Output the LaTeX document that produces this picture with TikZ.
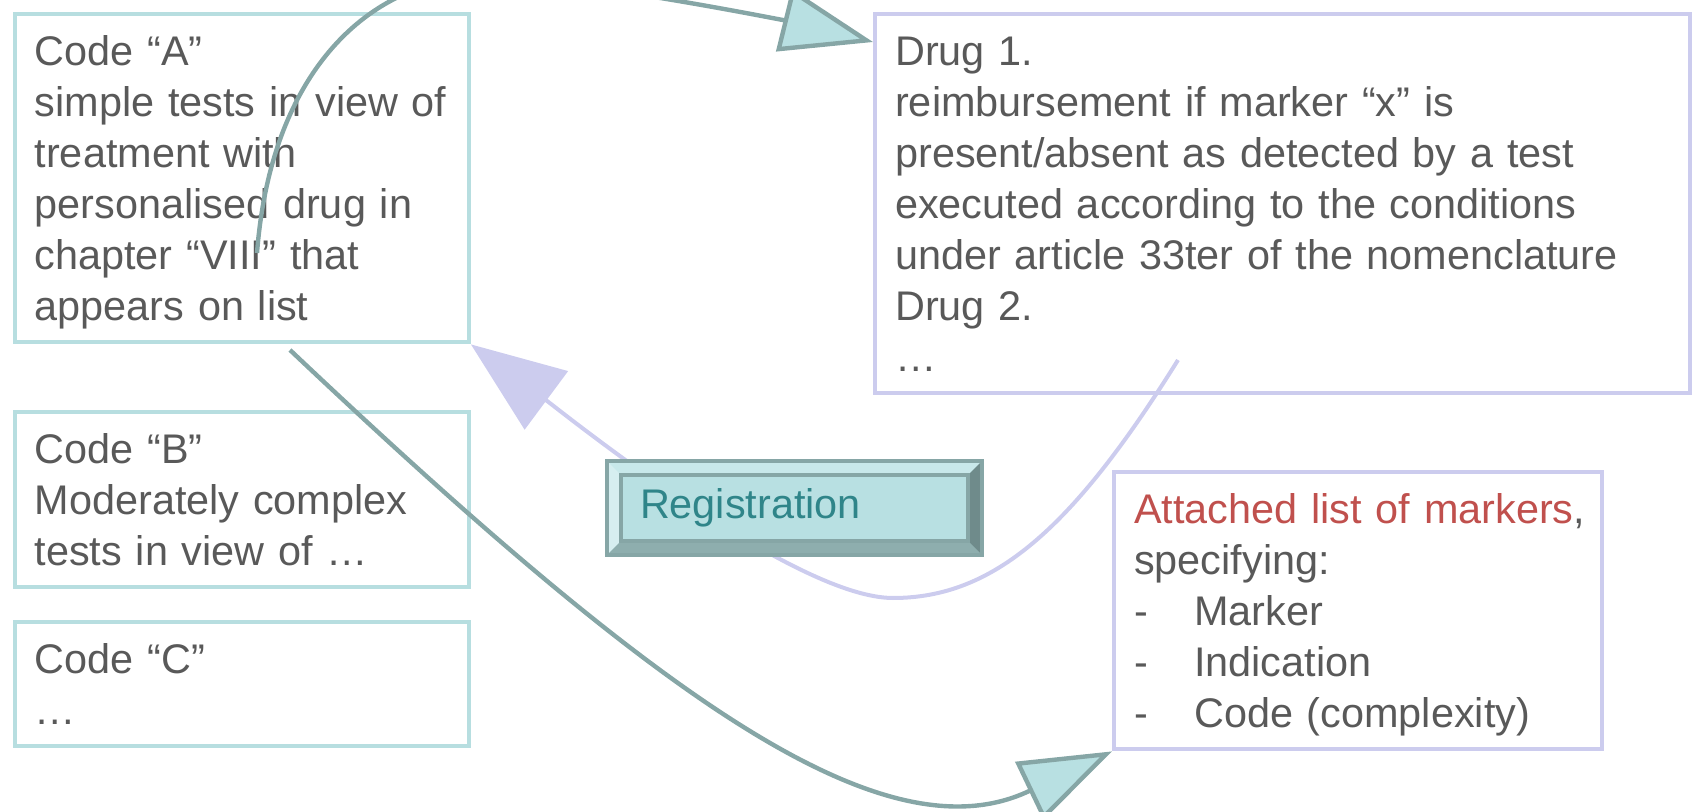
\documentclass[tikz,border=0pt]{standalone}
\usepackage{fontspec}
\setmainfont{Liberation Sans}
\usepackage{tikz}
\usetikzlibrary{arrows.meta,positioning}

\definecolor{tealline}{HTML}{B7DEE0}
\definecolor{lavline}{HTML}{CCCCEE}
\definecolor{conn}{HTML}{86A6A6}
\definecolor{arrfill}{HTML}{B8E0E2}
\definecolor{txtgray}{HTML}{595959}
\definecolor{markred}{HTML}{C0504D}
\definecolor{regtext}{HTML}{2F8589}
\definecolor{bevlight}{HTML}{D6EEF0}
\definecolor{bevtop}{HTML}{C8E8EA}
\definecolor{bevbot}{HTML}{8EAEAE}
\definecolor{bevright}{HTML}{6F8B8B}

\newcommand{\tstrut}{\rule{0pt}{25.5pt}}
\newcommand{\bstrut}{\rule[-11pt]{0pt}{11pt}}

\tikzset{
  txt/.style={font=\fontsize{20.7pt}{25.5pt}\selectfont, text=txtgray},
  codebox/.style={txt, draw=tealline, line width=2.2pt, anchor=north west,
    inner xsep=10pt, inner ysep=0pt, text width=207pt, align=left},
  drugbox/.style={codebox, draw=lavline},
  tealarrow/.style={conn, line width=2.2pt, line join=round,
    -{Triangle[length=46pt,width=32pt,fill=arrfill]}},
  lavarrow/.style={lavline, line width=2pt, line join=round,
    -{Triangle[length=47pt,width=36pt]}},
  regbox/.style={txt, text=regtext, draw=conn, line width=2pt, fill=arrfill,
    anchor=north west, inner xsep=16.5pt, text width=154.5pt, align=left,
    minimum height=47pt,
    path picture={
      \fill[bevtop] (path picture bounding box.north west) -- (path picture bounding box.north east)
        -- ([shift={(-7pt,-7pt)}]path picture bounding box.north east)
        -- ([shift={(7pt,-7pt)}]path picture bounding box.north west) -- cycle;
      \fill[bevlight] (path picture bounding box.north west) -- (path picture bounding box.south west)
        -- ([shift={(7pt,7pt)}]path picture bounding box.south west)
        -- ([shift={(7pt,-7pt)}]path picture bounding box.north west) -- cycle;
      \fill[bevbot] (path picture bounding box.south west) -- (path picture bounding box.south east)
        -- ([shift={(-7pt,7pt)}]path picture bounding box.south east)
        -- ([shift={(7pt,7pt)}]path picture bounding box.south west) -- cycle;
      \fill[bevright] (path picture bounding box.north east) -- (path picture bounding box.south east)
        -- ([shift={(-7pt,7pt)}]path picture bounding box.south east)
        -- ([shift={(-7pt,-7pt)}]path picture bounding box.north east) -- cycle;
      \draw[conn, line width=1.6pt] ([shift={(7pt,-7pt)}]path picture bounding box.north west)
        rectangle ([shift={(-7pt,7pt)}]path picture bounding box.south east);
    }}
}

\begin{document}
\begin{tikzpicture}[x=0.5pt,y=-0.5pt]
      \useasboundingbox (0,0) rectangle (1692,812);

      \coordinate (a1) at (257,253);
      \coordinate (a2) at (290,350);
      \coordinate (d1) at (1178,360);

      \node[codebox] (codeA) at (12.5,12) {\tstrut Code “A”\\
        \mbox{simple tests in view of}\\ treatment with\\ personalised drug in\\
        chapter “VIII” that\\ appears on list\bstrut};
      \node[codebox] (codeB) at (12.5,410) {\tstrut Code “B”\\
        Moderately complex\\ tests in view of …\bstrut};
      \node[codebox] (codeC) at (12.5,620) {\tstrut Code “C”\\ …\bstrut};

      \node[drugbox, text width=387.5pt] (drug) at (873,12) {\tstrut Drug 1.\\
        reimbursement if marker “x” is\\
        present/absent as detected by a test\\
        executed according to the conditions\\
        under article 33ter of the nomenclature\\
        Drug 2.\\ …\bstrut};

      \node[drugbox, text width=224pt] (attached) at (1112,470)
        {\tstrut\mbox{\textcolor{markred}{Attached list of markers},}\\
        specifying:\\
        \makebox[30pt][l]{-}Marker\\
        \makebox[30pt][l]{-}Indication\\
        \makebox[30pt][l]{-}Code (complexity)\bstrut};

      % links
      \draw[tealarrow] (a1) .. controls (272,60) and (380,-22) .. (480,-22)
        .. controls (580,-22) and (800,24) .. ([yshift=-15pt]drug.north west);
      \draw[tealarrow] (a2) .. controls (660,700) and (885,860) .. (attached.south west);
      \draw[lavarrow] (d1) .. controls (1072,530) and (993,598) .. (893,598)
        .. controls (793,598) and (562,412) .. (codeA.south east);

      \node[regbox] (reg) at (605,459) {Registration};

\end{tikzpicture}
\end{document}
